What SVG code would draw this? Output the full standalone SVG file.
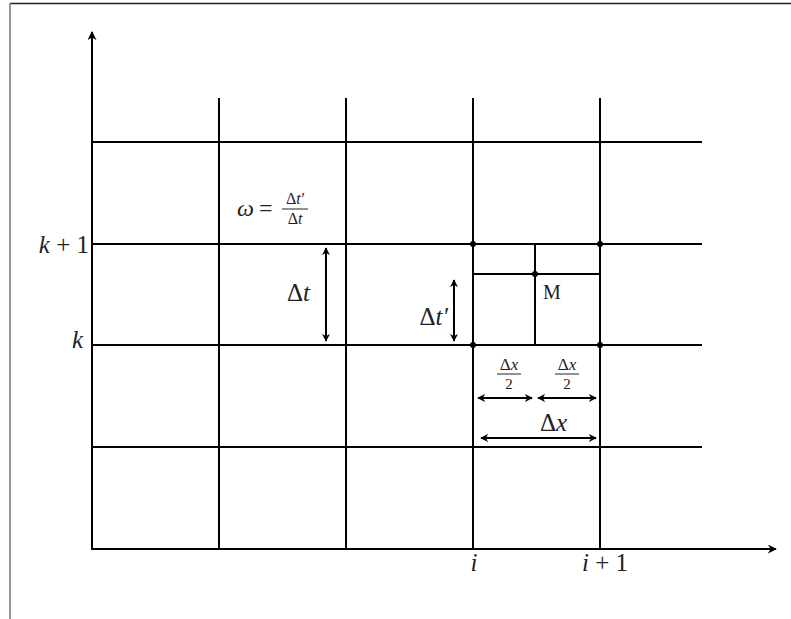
<svg xmlns="http://www.w3.org/2000/svg" width="791" height="619" viewBox="0 0 791 619">
<defs>
<marker id="ah" viewBox="0 0 10 10" refX="9" refY="5" markerWidth="8" markerHeight="8" orient="auto-start-reverse" markerUnits="userSpaceOnUse">
<path d="M0,0 L10,5 L0,10 L3,5 z" fill="#000"/>
</marker>
<marker id="ax" viewBox="0 0 10 10" refX="9" refY="5" markerWidth="9" markerHeight="9" orient="auto" markerUnits="userSpaceOnUse">
<path d="M0,0 L10,5 L0,10 L3,5 z" fill="#000"/>
</marker>
<style>
.g{stroke:#000;stroke-width:2;fill:none}
.a{stroke:#000;stroke-width:2;fill:none;marker-start:url(#ah);marker-end:url(#ah)}
.t{font-family:"Liberation Serif","Times New Roman",serif;fill:#222}
.m{font-family:"Liberation Serif","Times New Roman",serif;font-style:italic;fill:#222}
.d{fill:#000}
</style>
</defs>
<rect width="791" height="619" fill="#fff"/>
<g id="frame">
<line x1="10" y1="3.5" x2="791" y2="3.5" stroke="#222" stroke-width="1.5"/>
<line x1="10" y1="3" x2="10" y2="619" stroke="#777" stroke-width="1.5"/>
</g>
<g id="connectors">
<line class="g" x1="92" y1="549" x2="92" y2="32" marker-end="url(#ax)"/>
<line class="g" x1="91" y1="549" x2="776" y2="549" marker-end="url(#ax)"/>
<line class="g" x1="219" y1="98" x2="219" y2="549"/>
<line class="g" x1="346" y1="98" x2="346" y2="549"/>
<line class="g" x1="473" y1="98" x2="473" y2="549"/>
<line class="g" x1="600" y1="98" x2="600" y2="549"/>
<line class="g" x1="92" y1="142" x2="702" y2="142"/>
<line class="g" x1="92" y1="244" x2="702" y2="244"/>
<line class="g" x1="92" y1="345" x2="702" y2="345"/>
<line class="g" x1="92" y1="447" x2="702" y2="447"/>
<line class="g" x1="535" y1="244" x2="535" y2="345"/>
<line class="g" x1="473" y1="274" x2="600" y2="274"/>
<line class="a" x1="326" y1="248" x2="326" y2="341"/>
<line class="a" x1="454" y1="280" x2="454" y2="341"/>
<line class="a" x1="478" y1="398" x2="532" y2="398"/>
<line class="a" x1="538" y1="398" x2="596" y2="398"/>
<line class="a" x1="481" y1="438" x2="596" y2="438"/>
</g>
<g id="dots">
<circle class="d" cx="473" cy="244" r="3"/>
<circle class="d" cx="600" cy="244" r="3"/>
<circle class="d" cx="473" cy="345" r="3"/>
<circle class="d" cx="600" cy="345" r="3"/>
<circle class="d" cx="535" cy="274" r="3"/>
</g>
<g id="labels">
<text class="m" x="89" y="253" font-size="25" text-anchor="end">k <tspan font-style="normal">+ 1</tspan></text>
<text class="m" x="83" y="348" font-size="25" text-anchor="end">k</text>
<text class="m" x="474" y="571" font-size="25" text-anchor="middle">i</text>
<text class="m" x="582" y="571" font-size="25">i <tspan font-style="normal">+ 1</tspan></text>
<text class="t" x="543" y="299" font-size="20">M</text>
<text class="m" x="310" y="301" font-size="25" text-anchor="end"><tspan font-style="normal">Δ</tspan>t</text>
<text class="m" x="448" y="325" font-size="25" text-anchor="end"><tspan font-style="normal">Δ</tspan>t′</text>
<text class="m" x="237" y="216" font-size="24">ω</text>
<text class="t" x="259" y="216" font-size="24">=</text>
<text class="m" x="295" y="204" font-size="16" text-anchor="middle"><tspan font-style="normal">Δ</tspan>t′</text>
<line x1="282" y1="209" x2="308" y2="209" stroke="#222" stroke-width="1"/>
<text class="m" x="295" y="224" font-size="16" text-anchor="middle"><tspan font-style="normal">Δ</tspan>t</text>
<text class="m" x="509" y="370" font-size="17" text-anchor="middle"><tspan font-style="normal">Δ</tspan>x</text>
<line x1="497" y1="374" x2="521" y2="374" stroke="#222" stroke-width="1"/>
<text class="t" x="509" y="389" font-size="15" text-anchor="middle">2</text>
<text class="m" x="567" y="370" font-size="17" text-anchor="middle"><tspan font-style="normal">Δ</tspan>x</text>
<line x1="555" y1="374" x2="579" y2="374" stroke="#222" stroke-width="1"/>
<text class="t" x="567" y="389" font-size="15" text-anchor="middle">2</text>
<text class="m" x="540" y="431" font-size="25"><tspan font-style="normal">Δ</tspan>x</text>
</g>
</svg>
